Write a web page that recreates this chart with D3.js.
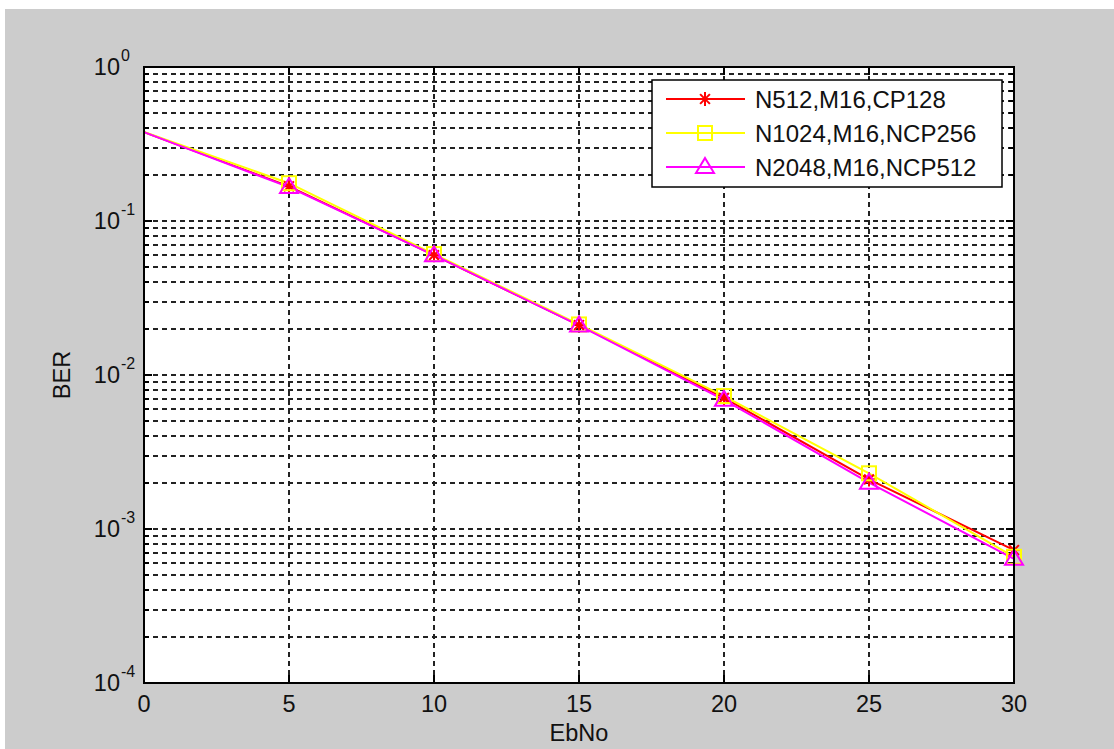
<!DOCTYPE html>
<html><head><meta charset="utf-8">
<script src="https://cdn.jsdelivr.net/npm/d3@7"></script>
<style>body{margin:0;background:#fff}svg{display:block}text{font-family:"Liberation Sans",Arial,sans-serif;fill:#111}</style>
</head><body><svg id="c" width="1114" height="749"></svg>
<script>
const ebno = [0, 5, 10, 15, 20, 25, 30];
const seriesNames = ["N512,M16,CP128", "N1024,M16,NCP256", "N2048,M16,NCP512"];
const berN512 = [0.378, 0.168, 0.060, 0.0211, 0.0071, 0.0021, 0.00073];
const berN1024 = [0.378, 0.176, 0.061, 0.0213, 0.0073, 0.0023, 0.00066];
const berN2048 = [0.378, 0.166, 0.060, 0.0210, 0.0069, 0.0020, 0.00064];
const xTicks = [0, 5, 10, 15, 20, 25, 30];
const yExps = [0, -1, -2, -3, -4];
const colors = ["#ff0000", "#ffff00", "#ff00ff"];
const markers = ["star", "square", "triangle"];
const allSeries = [berN512, berN1024, berN2048];

const svg = d3.select("#c");
svg.append("rect").attr("x",5).attr("y",9).attr("width",1109).attr("height",740).attr("fill","#cccccc");
const L=144,R=1014,T=67,B=683;
const x = d3.scaleLinear().domain([0,30]).range([L,R]);
const y = d3.scaleLog().domain([1e-4,1]).range([B,T]);
svg.append("rect").attr("x",L).attr("y",T).attr("width",R-L).attr("height",B-T).attr("fill","#fff");

const minor=[];
yExps.slice(1).forEach(e=>{for(let k=2;k<=9;k++)minor.push(k*Math.pow(10,e));});
const majorY = yExps.map(e=>Math.pow(10,e));
const g = svg.append("g");
const ry = v => Math.round(y(v));
// grid
[...minor, ...majorY.slice(1,-1)].forEach(v=>{
  g.append("line").attr("x1",L).attr("x2",R).attr("y1",ry(v)).attr("y2",ry(v))
   .attr("stroke","#222").attr("stroke-width",2).attr("stroke-dasharray","5,4");
});
xTicks.slice(1,-1).forEach(v=>{
  const px = Math.round(x(v));
  g.append("line").attr("y1",T).attr("y2",B).attr("x1",px).attr("x2",px)
   .attr("stroke","#222").attr("stroke-width",2).attr("stroke-dasharray","5,4");
});
// ticks
xTicks.forEach(v=>{
  const px = Math.round(x(v));
  g.append("line").attr("x1",px).attr("x2",px).attr("y1",B).attr("y2",B-8).attr("stroke","#000").attr("stroke-width",2);
  g.append("line").attr("x1",px).attr("x2",px).attr("y1",T).attr("y2",T+8).attr("stroke","#000").attr("stroke-width",2);
  g.append("text").attr("x",x(v)).attr("y",B+29).attr("text-anchor","middle").attr("font-size",23.5).text(v);
});
majorY.forEach(v=>{
  g.append("line").attr("x1",L).attr("x2",L+8).attr("y1",ry(v)).attr("y2",ry(v)).attr("stroke","#000").attr("stroke-width",2);
  g.append("line").attr("x1",R).attr("x2",R-8).attr("y1",ry(v)).attr("y2",ry(v)).attr("stroke","#000").attr("stroke-width",2);
});
minor.forEach(v=>{
  g.append("line").attr("x1",L).attr("x2",L+5).attr("y1",ry(v)).attr("y2",ry(v)).attr("stroke","#000").attr("stroke-width",2);
  g.append("line").attr("x1",R).attr("x2",R-5).attr("y1",ry(v)).attr("y2",ry(v)).attr("stroke","#000").attr("stroke-width",2);
});
yExps.forEach(e=>{
  g.append("text").attr("x",L-24).attr("y",y(Math.pow(10,e))+8).attr("text-anchor","end").attr("font-size",23.5).text("10");
  g.append("text").attr("x",L-23).attr("y",y(Math.pow(10,e))-6).attr("text-anchor","start").attr("font-size",16).text(e);
});
// lines
const line = d3.line().x((d,i)=>x(ebno[i])).y(d=>y(d));
allSeries.forEach((s,si)=>{
  svg.append("path").datum(s).attr("d",line).attr("fill","none").attr("stroke",colors[si]).attr("stroke-width",2);
});
function marker(gg,type,cx,cy,col){
  if(type==="star"){
    const r=7;
    [[-r,0,r,0],[0,-r,0,r],[-r*0.7,-r*0.7,r*0.7,r*0.7],[-r*0.7,r*0.7,r*0.7,-r*0.7]].forEach(a=>{
      gg.append("line").attr("x1",cx+a[0]).attr("y1",cy+a[1]).attr("x2",cx+a[2]).attr("y2",cy+a[3]).attr("stroke",col).attr("stroke-width",2);
    });
  } else if(type==="square"){
    gg.append("rect").attr("x",cx-7).attr("y",cy-7).attr("width",14).attr("height",14).attr("fill","none").attr("stroke",col).attr("stroke-width",2);
  } else {
    gg.append("path").attr("d",`M${cx},${cy-9}L${cx+9},${cy+6}L${cx-9},${cy+6}Z`).attr("fill","none").attr("stroke",col).attr("stroke-width",2);
  }
}
allSeries.forEach((s,si)=>{
  const mg = svg.append("g");
  s.forEach((v,i)=>{ if(ebno[i]>0) marker(mg,markers[si],x(ebno[i]),y(v),colors[si]); });
});
// frame
svg.append("rect").attr("x",L).attr("y",T).attr("width",R-L).attr("height",B-T).attr("fill","none").attr("stroke","#000").attr("stroke-width",2);
// axis labels
svg.append("text").attr("x",x(15)).attr("y",741).attr("text-anchor","middle").attr("font-size",23.5).text("EbNo");
svg.append("text").attr("transform","translate(70,375) rotate(-90)").attr("text-anchor","middle").attr("font-size",23.5).text("BER");
// legend
const lg = svg.append("g");
lg.append("rect").attr("x",652).attr("y",80).attr("width",350).attr("height",107).attr("fill","#fff").attr("stroke","#000").attr("stroke-width",1.5);
seriesNames.forEach((n,i)=>{
  const cy = 99 + i*34;
  lg.append("line").attr("x1",666).attr("x2",745).attr("y1",cy).attr("y2",cy).attr("stroke",colors[i]).attr("stroke-width",2);
  marker(lg,markers[i],705,cy,colors[i]);
  lg.append("text").attr("x",755).attr("y",cy+8.5).attr("font-size",24).text(n);
});
</script></body></html>
